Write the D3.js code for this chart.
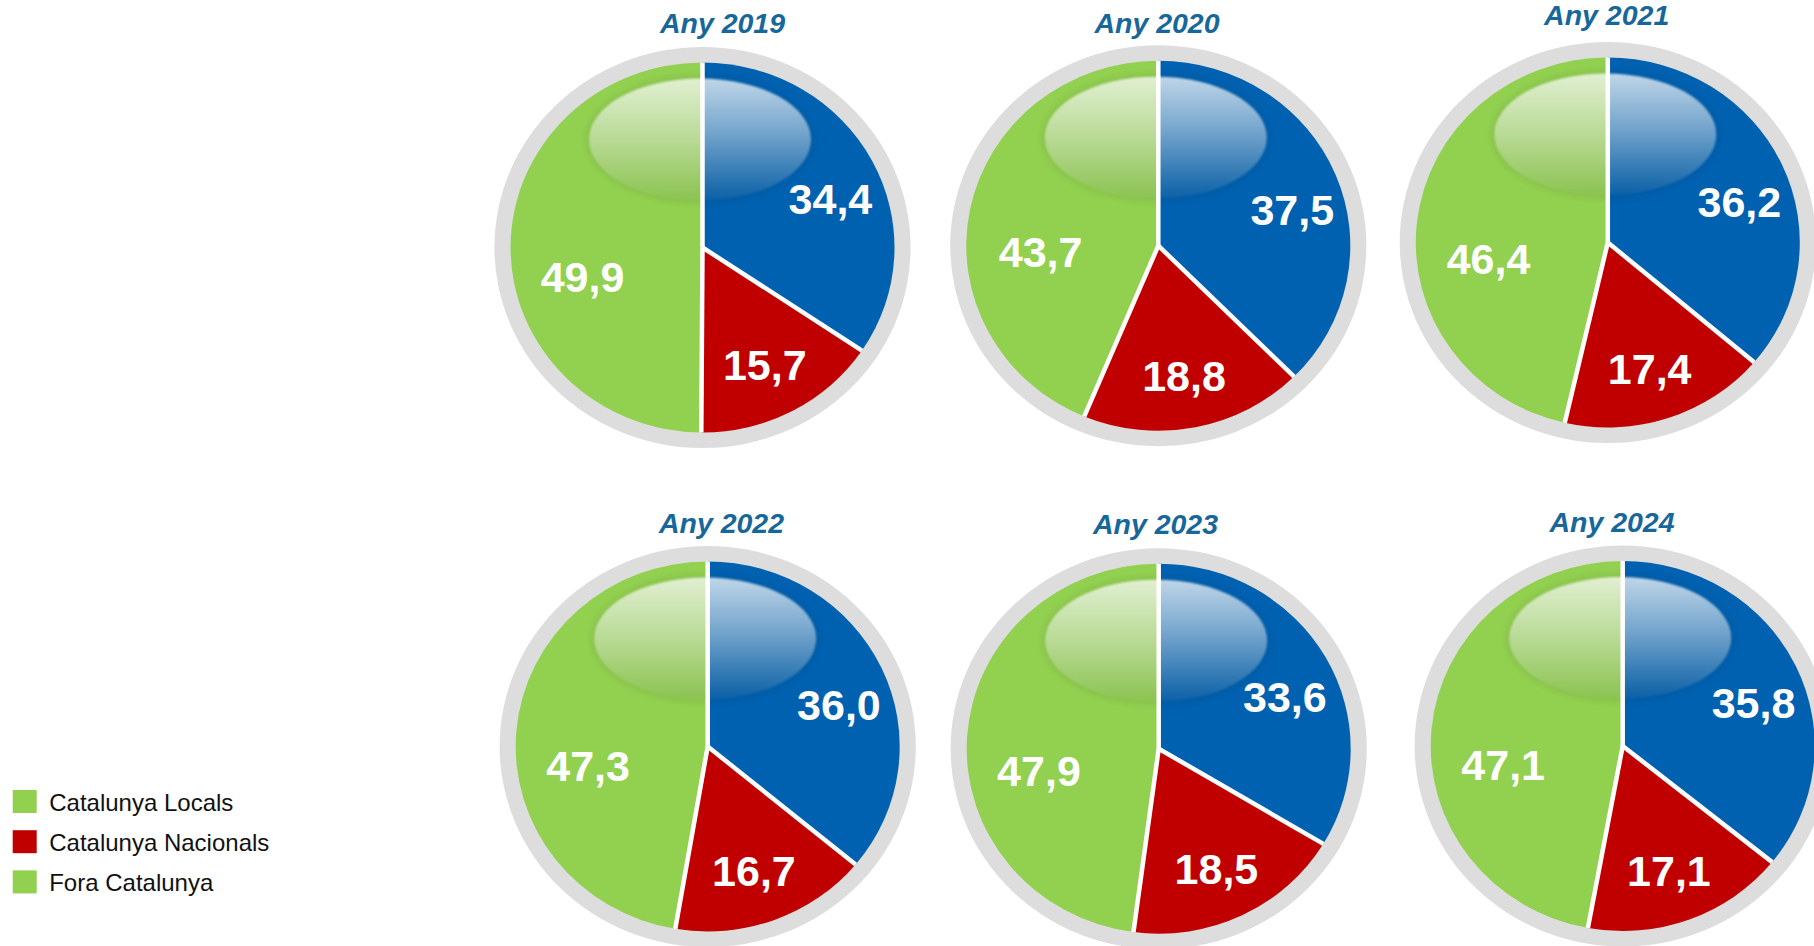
<!DOCTYPE html>
<html>
<head>
<meta charset="utf-8">
<script src="https://cdn.jsdelivr.net/npm/d3@7"></script>
<style>
  html, body { margin: 0; padding: 0; background: #ffffff; }
  svg { display: block; }
</style>
</head>
<body>
<svg id="chart" width="1814" height="946"></svg>
<script>
// ---------------- DATA ----------------
const years = ["Any 2019", "Any 2020", "Any 2021", "Any 2022", "Any 2023", "Any 2024"];
const sliceNames = ["Catalunya Locals", "Catalunya Nacionals", "Fora Catalunya"];
const locals     = [34.4, 37.5, 36.2, 36.0, 33.6, 35.8];   // blue slice
const nacionals  = [15.7, 18.8, 17.4, 16.7, 18.5, 17.1];   // red slice
const fora       = [49.9, 43.7, 46.4, 47.3, 47.9, 47.1];   // green slice
const legendLabels = ["Catalunya Locals", "Catalunya Nacionals", "Fora Catalunya"];

// ---------------- STYLE / LAYOUT ----------------
const sliceColors  = ["#0061B0", "#C00000", "#92D050"];
const legendColors = ["#92D050", "#C00000", "#92D050"];
const titleColor = "#17679B";
const ringColor = "#DDDDDD";
const pieCenters = [[702.5, 247.5], [1158.3, 245.7], [1607.8, 242.5],
                    [707.7, 746.5], [1158.7, 748.7], [1622.7, 746.0]];
const titlePos   = [[722.5, 33.3], [1157, 33.3], [1606.7, 25],
                    [721.5, 533.3], [1155.5, 534], [1612, 532.3]];
const R = 185;            // pie radius (vertical)
const ringWidth = 15.5;
const sx = 192 / 185;     // horizontal stretch of the pies
const labelRadius = [145, 133, 120];
const labelDy = [20, 0, 30];

const svg = d3.select("#chart");
const defs = svg.append("defs");

const grad = defs.append("linearGradient")
  .attr("id", "gloss").attr("x1", 0).attr("y1", 0).attr("x2", 0).attr("y2", 1);
grad.append("stop").attr("offset", "0%").attr("stop-color", "#fff").attr("stop-opacity", 0.75);
grad.append("stop").attr("offset", "45%").attr("stop-color", "#fff").attr("stop-opacity", 0.45);
grad.append("stop").attr("offset", "100%").attr("stop-color", "#fff").attr("stop-opacity", 0.04);

const blur = defs.append("filter").attr("id", "soft").attr("x", "-20%").attr("y", "-20%")
  .attr("width", "140%").attr("height", "140%");
blur.append("feGaussianBlur").attr("stdDeviation", 1.2);
const blur2 = defs.append("filter").attr("id", "shadow").attr("x", "-20%").attr("y", "-20%")
  .attr("width", "140%").attr("height", "140%");
blur2.append("feGaussianBlur").attr("stdDeviation", 3);

const pie = d3.pie().sort(null).value(d => d);
const arc = d3.arc().innerRadius(0).outerRadius(R);

years.forEach((yr, i) => {
  const values = [locals[i], nacionals[i], fora[i]];
  const [cx, cy] = pieCenters[i];
  const arcs = pie(values);

  const g = svg.append("g").attr("transform", `translate(${cx},${cy}) scale(${sx},1)`);

  // grey ring
  g.append("circle").attr("r", R + ringWidth).attr("fill", ringColor);

  // slices
  g.selectAll("path.slice").data(arcs).enter().append("path")
    .attr("class", "slice")
    .attr("d", arc)
    .attr("fill", (d, k) => sliceColors[k]);

  // gloss highlight
  g.append("ellipse")
    .attr("cx", -2.5 / sx).attr("cy", -108)
    .attr("rx", 114 / sx).attr("ry", 64)
    .attr("fill", "#000").attr("opacity", 0.07).attr("filter", "url(#shadow)");
  g.append("ellipse")
    .attr("cx", -2.5 / sx).attr("cy", -108)
    .attr("rx", 111 / sx).attr("ry", 61)
    .attr("fill", "url(#gloss)").attr("filter", "url(#soft)");

  // white separators
  g.selectAll("line.sep").data(arcs).enter().append("line")
    .attr("class", "sep")
    .attr("x1", 0).attr("y1", 0)
    .attr("x2", d => R * Math.sin(d.startAngle))
    .attr("y2", d => -R * Math.cos(d.startAngle))
    .attr("stroke", "#fff").attr("stroke-width", 4.5)
    .attr("vector-effect", "non-scaling-stroke");

  // value labels
  svg.append("g").selectAll("text").data(arcs).enter().append("text")
    .attr("x", (d, k) => cx + labelRadius[k] * Math.sin((d.startAngle + d.endAngle) / 2))
    .attr("y", (d, k) => cy - labelRadius[k] * Math.cos((d.startAngle + d.endAngle) / 2) + labelDy[k])
    .attr("text-anchor", "middle")
    .attr("dominant-baseline", "central")
    .attr("font-family", "'Liberation Sans', Arial, sans-serif")
    .attr("font-weight", "bold")
    .attr("font-size", 43)
    .attr("fill", "#fff")
    .text(d => d3.format(".1f")(d.data).replace(".", ","));

  // title
  svg.append("text")
    .attr("x", titlePos[i][0]).attr("y", titlePos[i][1])
    .attr("text-anchor", "middle")
    .attr("font-family", "'Liberation Sans', Arial, sans-serif")
    .attr("font-weight", "bold").attr("font-style", "italic")
    .attr("font-size", 28.5)
    .attr("fill", titleColor)
    .text(yr);
});

// legend
const legend = svg.append("g").attr("transform", "translate(12.7,790)");
const items = legend.selectAll("g").data(legendLabels).enter().append("g")
  .attr("transform", (d, k) => `translate(0,${k * 40.2})`);
items.append("rect").attr("width", 24).attr("height", 23)
  .attr("fill", (d, k) => legendColors[k]);
items.append("text").attr("x", 36.5).attr("y", 20.7)
  .attr("font-family", "'Liberation Sans', Arial, sans-serif")
  .attr("font-size", 24).attr("fill", "#111")
  .text(d => d);
</script>
</body>
</html>
